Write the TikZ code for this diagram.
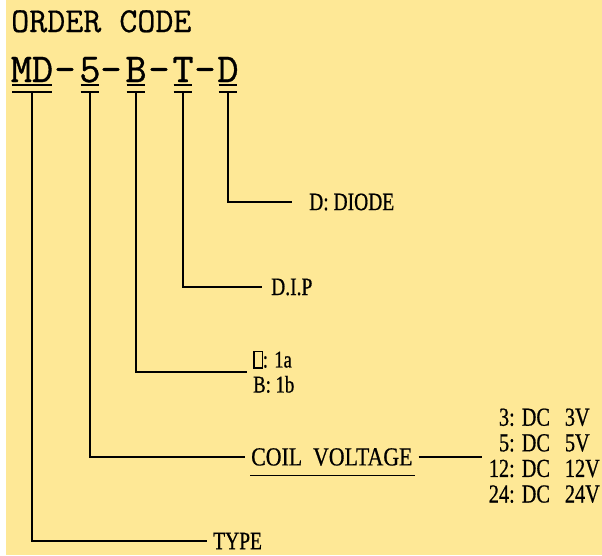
\documentclass[tikz,border=0pt]{standalone}
\usepackage{fontspec}
\usetikzlibrary{positioning}
\newfontfamily\codefont[FakeBold=0.9]{Latin Modern Mono}
\newfontfamily\titlefont[FakeBold=0.6]{Latin Modern Mono}
\newfontfamily\tagfont[FakeStretch=0.78,FakeBold=0.6]{Liberation Serif}
\newfontfamily\coilfont[FakeStretch=0.84,FakeBold=0.6]{Liberation Serif}
\definecolor{paper}{RGB}{254,232,150}
\tikzstyle{title}=[inner sep=0pt,anchor=base west,font=\titlefont\fontsize{35}{35}\selectfont]
\tikzstyle{code}=[inner sep=0pt,anchor=base,font=\codefont\fontsize{41}{41}\selectfont]
\tikzstyle{tag}=[inner sep=0pt,inner xsep=6pt,anchor=west,font=\tagfont\fontsize{25}{25}\selectfont]
\tikzstyle{bar}=[line width=1.8pt]
\newcommand{\missingGlyph}{{\setlength{\fboxsep}{0pt}\setlength{\fboxrule}{1.3pt}\fbox{\rule{0pt}{15pt}\hspace{7pt}}}}
\newcommand{\newCode}[3]{\node[code](#1) at (#2,82) {#3};
  \draw[bar] ([xshift=1.5pt,yshift=-3pt]#1.base west) -- ([xshift=-1.5pt,yshift=-3pt]#1.base east);
  \draw[bar] ([xshift=1.5pt,yshift=-10pt]#1.base west) -- ([xshift=-1.5pt,yshift=-10pt]#1.base east);}
\newcommand{\newLeg}[2]{\draw[bar] ([yshift=-10pt]#1.base) |- (#2.west);}

\begin{document}
\begin{tikzpicture}[x=1pt,y=-1pt,node distance=63pt]
    \useasboundingbox (0,0) rectangle (602,555);
    \fill[paper] (6,0) rectangle (602,555);
    \node[title] (order) at (11,32) {ORDER CODE};
    % code letters
    \newCode{md}{32}{MD}
    \node[code] (dashA) at (65,82) {–};
    \newCode{volt}{90}{5}
    \node[code] (dashB) at (111,82) {–};
    \newCode{form}{136}{B}
    \node[code] (dashC) at (159,82) {–};
    \newCode{term}{183}{T}
    \node[code] (dashD) at (205,82) {–};
    \newCode{diode}{228}{D}
    % labels
    \node[tag,inner xsep=17pt] (diodeTag) at (292,202) {D: DIODE};
    \node[tag,inner xsep=9pt] (termTag) at (262,287) {D.I.P};
    \node[tag,align=left,font=\tagfont\fontsize{24}{25}\selectfont] (formTag) at (247,372)
        {\missingGlyph: 1a\\B: 1b};
    \node[tag,font=\coilfont\fontsize{26}{26}\selectfont] (voltTag) at (245,457) {COIL\ \ VOLTAGE};
    \draw[line width=1.6pt] ([xshift=5pt,yshift=-10pt]voltTag.base west) -- ([xshift=-4pt,yshift=-10pt]voltTag.base east);
    \node[tag,right=of voltTag,inner xsep=7pt,yshift=-2pt,font=\tagfont\fontsize{26}{25.6}\selectfont] (voltList)
        {\begin{tabular}{@{}r@{\hspace{7pt}}l@{\hspace{15pt}}l@{}}
         3: & DC & 3V\\ 5: & DC & 5V\\ 12: & DC & 12V\\ 24: & DC & 24V
         \end{tabular}};
    \node[tag] (mdTag) at (207,541) {TYPE};
    % legs
    \newLeg{diode}{diodeTag}
    \newLeg{term}{termTag}
    \newLeg{form}{formTag}
    \newLeg{volt}{voltTag}
    \newLeg{md}{mdTag}
    \draw[bar] (voltTag) -- (voltTag -| voltList.west);
\end{tikzpicture}
\end{document}
